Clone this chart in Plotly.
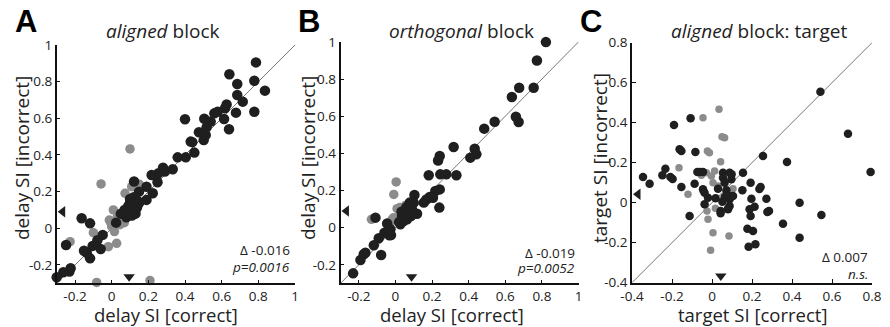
import plotly.graph_objects as go

# ---------------- data ----------------
# Panel A: aligned block, delay SI
a_black_x = [0.787, 0.642, 0.685, 0.778, 0.836, 0.685, 0.715, 0.627, 0.618, 0.578, 0.56, 0.613, 0.678, 0.778, 0.64,
             0.40, 0.505, 0.54, 0.518, 0.476, 0.513, 0.502, 0.431, 0.44, 0.451, 0.404, 0.36, 0.333, 0.28, 0.29,
             0.255, 0.25, 0.218, 0.224, 0.19, 0.19, 0.149, 0.122, 0.136,
             0.07, 0.08, 0.09, 0.10, 0.11, 0.12, 0.13, 0.14, 0.09, 0.10, 0.11, 0.12, 0.13, 0.08, 0.09, 0.10, 0.11,
             0.12, 0.06, 0.07, 0.10, 0.12, 0.14, 0.11, 0.05, 0.15,
             0.024, -0.049, -0.06, -0.104, -0.078, -0.118, -0.136, -0.151, -0.164, -0.118, -0.249, -0.224, -0.231,
             -0.264, -0.30]
a_black_y = [0.905, 0.84, 0.787, 0.805, 0.751, 0.727, 0.691, 0.676, 0.655, 0.636, 0.627, 0.596, 0.631, 0.636, 0.54,
             0.595, 0.598, 0.582, 0.551, 0.524, 0.509, 0.482, 0.473, 0.47, 0.413, 0.387, 0.387, 0.322, 0.331, 0.31,
             0.30, 0.251, 0.291, 0.191, 0.227, 0.155, 0.20, 0.255, 0.109,
             0.08, 0.09, 0.10, 0.11, 0.12, 0.13, 0.14, 0.15, 0.12, 0.14, 0.16, 0.10, 0.08, 0.06, 0.07, 0.09, 0.07,
             0.11, 0.08, 0.10, 0.16, 0.17, 0.12, 0.13, 0.08, 0.14,
             0.031, -0.036, -0.113, -0.096, -0.065, -0.164, -0.133, -0.122, 0.055, 0.027, -0.091, -0.218, -0.236,
             -0.24, -0.267]
a_gray_x = [0.10, -0.058, 0.151, 0.109, 0.073, 0.009, -0.013, -0.005, 0.0, 0.015, -0.10, -0.227, -0.018, 0.027,
            0.069, -0.082, 0.209, 0.03, 0.045]
a_gray_y = [0.433, 0.242, 0.24, 0.227, 0.191, 0.10, 0.045, 0.03, 0.009, -0.018, -0.024, -0.073, -0.10, -0.082,
            0.031, -0.295, -0.285, 0.06, 0.02]

# Panel B: orthogonal block, delay SI
b_black_x = [0.822, 0.773, 0.676, 0.755, 0.636, 0.658, 0.673, 0.542, 0.485, 0.433, 0.442, 0.409, 0.318, 0.242,
             0.233, 0.333, 0.278, 0.245, 0.182, 0.242, 0.218, 0.24, 0.205, 0.187, 0.169, 0.155, 0.104, 0.10, 0.118,
             0.078, 0.073, 0.055, 0.036, 0.027, 0.045, 0.064, 0.033, 0.085, -0.045, -0.06, -0.027, -0.024, -0.033,
             -0.091, -0.118, -0.078, -0.164, -0.173, -0.191, -0.231, -0.109, 0.09, 0.06, 0.02]
b_black_y = [0.999, 0.90, 0.753, 0.753, 0.703, 0.597, 0.569, 0.57, 0.533, 0.425, 0.395, 0.377, 0.434, 0.386,
             0.362, 0.282, 0.287, 0.287, 0.282, 0.206, 0.197, 0.108, 0.161, 0.165, 0.152, 0.135, 0.176, 0.135,
             0.075, 0.135, 0.099, 0.081, 0.063, 0.018, 0.036, 0.045, 0.086, 0.063, 0.022, -0.027, -0.009, -0.04,
             -0.041, -0.057, -0.095, -0.147, -0.135, -0.143, -0.174, -0.246, 0.054, 0.10, 0.11, 0.03]
b_gray_x = [0.004, -0.009, 0.009, 0.024, -0.131, -0.018, -0.027, -0.009, 0.055]
b_gray_y = [0.246, 0.179, 0.102, 0.108, 0.045, 0.045, 0.027, 0.054, 0.12]

# Panel C: aligned block, target SI
c_black_x = [0.542, 0.68, 0.793, 0.375, 0.255, 0.155, 0.438, 0.547, 0.438, 0.355, 0.285, 0.277, 0.272, 0.243,
             0.237, 0.193, 0.197, 0.213, 0.188, 0.193, 0.177, 0.205, 0.183, 0.217, 0.152, -0.107, -0.19, -0.162,
             -0.153, -0.083, -0.345, -0.312, -0.248, -0.233, -0.208, -0.197, -0.153, -0.112, -0.087, -0.073, -0.06,
             -0.045, -0.045, -0.037, -0.037, -0.02, 0.018, 0.03, 0.043, 0.043, 0.055, 0.055, 0.063, 0.072, 0.08,
             0.088, 0.08, 0.088, 0.098, 0.097, 0.105, 0.063, 0.052, 0.08, 0.088]
c_black_y = [0.555, 0.345, 0.153, 0.203, 0.233, 0.15, 0.0, -0.062, -0.175, -0.105, -0.042, -0.047, 0.02, 0.078,
             0.068, 0.1, 0.02, -0.02, -0.033, -0.067, -0.13, -0.142, -0.22, -0.208, 0.062, 0.422, 0.388, 0.267,
             0.258, 0.253, 0.128, 0.095, 0.137, 0.17, 0.128, 0.118, 0.078, -0.067, 0.095, 0.153, 0.153, 0.153,
             0.067, 0.05, -0.008, 0.025, 0.022, 0.07, -0.042, -0.053, 0.15, 0.125, 0.10, 0.062, 0.037, 0.017,
             -0.03, 0.15, 0.142, 0.117, 0.033, 0.028, 0.005, -0.033, -0.017]
c_gray_x = [0.035, -0.045, 0.05, 0.063, -0.023, -0.013, 0.043, -0.165, -0.12, -0.028, -0.003, 0.013, -0.053,
            0.005, 0.03, -0.025, -0.02, 0.005, 0.085, -0.007, 0.017, -0.045, 0.105]
c_gray_y = [0.467, 0.425, 0.33, 0.325, 0.258, 0.25, 0.205, 0.175, 0.042, 0.15, 0.133, 0.158, 0.137, 0.1, 0.083,
            -0.042, -0.083, -0.15, -0.167, -0.238, -0.028, 0.058, 0.07]

# mean markers (triangles) on each axis
tri_left_y = [0.09, 0.09, 0.042]
tri_down_x = [0.095, 0.088, 0.044]

# axis ranges and ticks
range_ab = [-0.3, 1.0]
range_c = [-0.4, 0.8]
ticks_ab = [-0.2, 0, 0.2, 0.4, 0.6, 0.8, 1]
ticks_c = [-0.4, -0.2, 0, 0.2, 0.4, 0.6, 0.8]
tick_text_ab = ["-0.2", "0", "0.2", "0.4", "0.6", "0.8", "1"]
tick_text_c = ["-0.4", "-0.2", "0", "0.2", "0.4", "0.6", "0.8"]

titles = ["<i>aligned</i> block", "<i>orthogonal</i> block", "<i>aligned</i> block: target"]
letters = ["A", "B", "C"]
xlabels = ["delay SI [correct]", "delay SI [correct]", "target SI [correct]"]
ylabels = ["delay SI [incorrect]", "delay SI [incorrect]", "target SI [incorrect]"]
stat1 = ["Δ -0.016", "Δ -0.019", "Δ 0.007"]
stat2 = ["<i>p=0.0016</i>", "<i>p=0.0052</i>", "<i>n.s.</i>"]

# ---------------- figure ----------------
W, H = 890, 327
BLACK = "#1f1f1f"
GRAY = "#8c8c8c"
FONT = "Open Sans"

# pixel boxes for axes: (left, right, top, bottom)
boxes = [(56.7, 295.0, 45.0, 283.3), (340.5, 578.5, 41.9, 283.4), (632.0, 872.0, 42.7, 282.7)]
letter_x = [26, 309, 591]
xlabel_x = [166, 452, 752]
ylabel_x = [22, 308, 600]
title_x = [162, 461, 759]
stat_x = [292, 577, 870]
stat1_y = [250, 253, 257]
stat2_y = [267, 268, 274]

fig = go.Figure()
panels = [
    (a_black_x, a_black_y, a_gray_x, a_gray_y, range_ab, 10.5),
    (b_black_x, b_black_y, b_gray_x, b_gray_y, range_ab, 10.5),
    (c_black_x, c_black_y, c_gray_x, c_gray_y, range_c, 8.5),
]

layout = dict(width=W, height=H, margin=dict(l=0, r=0, t=0, b=0, autoexpand=False), paper_bgcolor="white",
              plot_bgcolor="white", showlegend=False, font=dict(family=FONT, color="#222"))


def ann(text, px, py, size, xanchor="center", **kw):
    return dict(text=text, x=px / W, y=1 - py / H, xref="paper", yref="paper", xanchor=xanchor,
                yanchor="middle", showarrow=False, font=dict(size=size, color=kw.pop("color", "#222"),
                                                             family=kw.pop("family", FONT)), **kw)


annotations = []
for i, (bx, by, gx, gy, rng, ms) in enumerate(panels):
    xa = "x" if i == 0 else f"x{i+1}"
    ya = "y" if i == 0 else f"y{i+1}"
    l, r, t, b = boxes[i]
    tickvals = ticks_ab if i < 2 else ticks_c
    ticktext = tick_text_ab if i < 2 else tick_text_c
    axis_common = dict(range=rng, showgrid=False, zeroline=False, showline=True, linecolor="#111",
                       linewidth=1.5, ticks="inside", ticklen=4, tickcolor="#111", tickwidth=1.2,
                       tickvals=tickvals, ticktext=ticktext, tickfont=dict(size=13.5, color="#222", family=FONT),
                       fixedrange=True, automargin=False)
    layout["xaxis" if i == 0 else f"xaxis{i+1}"] = dict(axis_common, domain=[l / W, r / W], anchor=ya)
    layout["yaxis" if i == 0 else f"yaxis{i+1}"] = dict(axis_common, domain=[1 - b / H, 1 - t / H], anchor=xa)
    # diagonal
    fig.add_trace(go.Scatter(x=rng, y=rng, mode="lines", line=dict(color="#777", width=1),
                             xaxis=xa, yaxis=ya, hoverinfo="skip", cliponaxis=False))
    fig.add_trace(go.Scatter(x=gx, y=gy, mode="markers", marker=dict(color=GRAY, size=ms - 1),
                             xaxis=xa, yaxis=ya, cliponaxis=False))
    fig.add_trace(go.Scatter(x=bx, y=by, mode="markers", marker=dict(color=BLACK, size=ms),
                             xaxis=xa, yaxis=ya, cliponaxis=False))
    # triangles
    lo = rng[0]
    span = rng[1] - rng[0]
    fig.add_trace(go.Scatter(x=[lo + 0.025 * span], y=[tri_left_y[i]], mode="markers",
                             marker=dict(symbol="triangle-left", color=BLACK, size=10),
                             xaxis=xa, yaxis=ya, cliponaxis=False))
    fig.add_trace(go.Scatter(x=[tri_down_x[i]], y=[lo + 0.028 * span], mode="markers",
                             marker=dict(symbol="triangle-down", color=BLACK, size=10),
                             xaxis=xa, yaxis=ya, cliponaxis=False))

    annotations.append(ann(titles[i], title_x[i], 31, 19))
    annotations.append(ann(f"<b>{letters[i]}</b>", letter_x[i], 22, 31, color="black", family="Liberation Sans"))
    annotations.append(ann(xlabels[i], xlabel_x[i], 314, 18.5))
    annotations.append(ann(ylabels[i], ylabel_x[i], 158, 19, textangle=-90))
    annotations.append(ann(stat1[i], stat_x[i], stat1_y[i], 13.5, xanchor="right"))
    annotations.append(ann(stat2[i], stat_x[i], stat2_y[i], 13.5, xanchor="right"))

layout["annotations"] = annotations
fig.update_layout(**layout)
fig.write_html("out.html")
